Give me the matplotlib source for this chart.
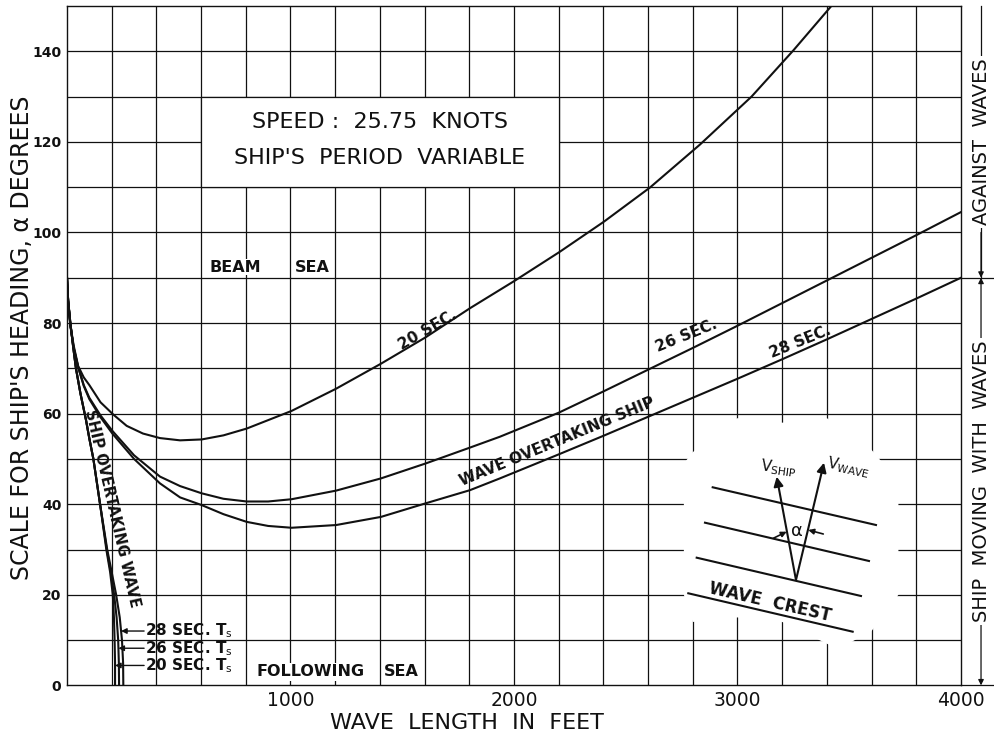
import numpy as np
import matplotlib.pyplot as plt
from matplotlib.patches import Rectangle, Polygon

# wave overtaking ship branch: wave length (ft) vs heading alpha (deg)
len_20 = [0, 5, 15, 30, 50, 75, 100, 150, 207, 267, 340, 416, 506, 603, 700, 804, 1005,
          1204, 1404, 1603, 1804, 2002, 2204, 2403, 2608, 2832, 3063, 3250, 3420]
deg_20 = [90, 85, 79.6, 75, 70.5, 68, 66.3, 62.5, 59.8, 57.3, 55.6, 54.6, 54.1, 54.3, 55.2,
          56.7, 60.6, 65.5, 71.0, 76.8, 83.3, 89.3, 95.7, 102.4, 109.9, 119.4, 130, 140.2, 150]

len_26 = [0, 5, 15, 30, 50, 75, 100, 150, 203, 300, 416, 506, 603, 700, 804, 900, 1005,
          1204, 1405, 1605, 1803, 1937, 2200, 2400, 2600, 2800, 3000, 3200, 3400, 3600,
          3800, 4000]
deg_26 = [90, 85, 79.5, 74.5, 70.3, 66.3, 63.5, 59.6, 56.2, 50.8, 46.1, 44.0, 42.4, 41.2,
          40.6, 40.6, 41.1, 43.0, 45.7, 49.0, 52.5, 54.9, 60.2, 64.9, 69.7, 74.5, 79.4,
          84.4, 89.4, 94.4, 99.4, 104.5]

len_28 = [0, 5, 15, 30, 50, 75, 100, 150, 203, 300, 416, 506, 603, 700, 804, 900, 1005,
          1204, 1405, 1605, 1803, 1937, 2200, 2400, 2600, 2800, 3000, 3200, 3400, 3600,
          3800, 4000]
deg_28 = [90, 85, 79.5, 74.5, 70.2, 66.1, 63.2, 59.2, 55.6, 50.0, 44.6, 41.5, 39.8, 37.8,
          36.1, 35.2, 34.8, 35.4, 37.2, 40.2, 43.1, 45.7, 51.0, 55.1, 59.3, 63.5, 67.7,
          72.0, 76.4, 80.9, 85.4, 90]

# ship overtaking wave branch
ovt_deg = [90, 85, 80, 75, 70, 64.5, 58.6, 54.5, 50, 45, 40, 35, 30, 25, 20, 15, 10, 5, 0]
ovt_20 = [0, 5, 15, 27, 40, 60, 85, 100, 118, 133, 148, 162, 176, 193, 205, 210, 213, 215, 215]
ovt_26 = [0, 5, 15, 27, 40, 60, 85, 100, 118, 133, 148, 163, 178, 196, 211, 222, 229, 232, 233]
ovt_28 = [0, 5, 15, 27, 40, 60, 85, 100, 118, 133, 148, 164, 180, 200, 220, 236, 246, 251, 252]

y_ticks = [0, 20, 40, 60, 80, 100, 120, 140]
x_ticks = [1000, 2000, 3000, 4000]

INK = '#111111'
plt.rcParams['font.family'] = ['DejaVu Sans']

fig = plt.figure(figsize=(9.94, 7.38), dpi=100)
ax = fig.add_axes([0.0674, 0.0713, 0.8994, 0.9206])
ax.set_xlim(0, 4000)
ax.set_ylim(0, 150)

# grid
ax.vlines(np.arange(200, 4000, 200), 0, 150, color=INK, lw=0.9, zorder=1)
ax.hlines(np.arange(10, 150, 10), 0, 4000, color=INK, lw=0.9, zorder=1)
for s in ax.spines.values():
    s.set_color(INK)
    s.set_linewidth(1.0)

ax.set_yticks(y_ticks)
ax.set_yticklabels([str(v) for v in y_ticks], fontsize=10, fontweight='bold')
ax.set_xticks(x_ticks)
ax.set_xticklabels([str(v) for v in x_ticks], fontsize=13.5)
ax.tick_params(length=0, colors=INK)
ax.tick_params(axis='y', pad=4)
ax.tick_params(axis='x', pad=4)

# white patches hiding grid (title box and inset drawing)
ax.add_patch(Rectangle((600, 110), 1600, 20, facecolor='white', edgecolor=INK,
                       lw=0.9, zorder=2))
ax.add_patch(Polygon([(2760, 49), (2800, 51.5), (3000, 59), (3200, 58), (3400, 59),
                      (3600, 52), (3720, 45), (3720, 20), (3600, 12), (3450, 8),
                      (3200, 14), (3000, 15), (2800, 14), (2760, 20)],
                     closed=True, facecolor='white', edgecolor='none', zorder=2))

# curves
for xs, ys in [(len_20, deg_20), (len_26, deg_26), (len_28, deg_28),
               (ovt_20, ovt_deg), (ovt_26, ovt_deg), (ovt_28, ovt_deg)]:
    ax.plot(xs, ys, color=INK, lw=1.5, zorder=3, solid_joinstyle='round')

ax.text(1400, 124.3, 'SPEED :  25.75  KNOTS', ha='center', va='center',
        fontsize=16, color=INK, zorder=4)
ax.text(1400, 116.4, "SHIP'S  PERIOD  VARIABLE", ha='center', va='center',
        fontsize=16, color=INK, zorder=4)

wb = dict(facecolor='white', edgecolor='none', pad=0.5)
ax.text(753, 90.7, 'BEAM', ha='center', va='bottom', fontsize=11.5,
        fontweight='bold', color=INK, bbox=wb, zorder=4)
ax.text(1098, 90.7, 'SEA', ha='center', va='bottom', fontsize=11.5,
        fontweight='bold', color=INK, bbox=wb, zorder=4)
ax.text(850, 3, 'FOLLOWING', ha='left', va='center', fontsize=11.5,
        fontweight='bold', color=INK, bbox=dict(facecolor='white', edgecolor='none', pad=1),
        zorder=4)
ax.text(1420, 3, 'SEA', ha='left', va='center', fontsize=11.5,
        fontweight='bold', color=INK, bbox=dict(facecolor='white', edgecolor='none', pad=1),
        zorder=4)

ax.text(1615, 78.5, '20 SEC.', ha='center', va='center', rotation=30,
        fontsize=11, fontweight='bold', color=INK, zorder=4)
ax.text(2770, 77.2, '26 SEC.', ha='center', va='center', rotation=22,
        fontsize=11, fontweight='bold', color=INK, zorder=4)
ax.text(3280, 75.8, '28 SEC.', ha='center', va='center', rotation=22,
        fontsize=11, fontweight='bold', color=INK, zorder=4)
ax.text(2192, 53.7, 'WAVE OVERTAKING SHIP', ha='center', va='center', rotation=22.5,
        fontsize=11, fontweight='bold', color=INK, zorder=4)
ax.text(200, 39.0, 'SHIP OVERTAKING WAVE', ha='center', va='center', rotation=-77,
        fontsize=10.5, fontweight='bold', color=INK, zorder=4)

# T_s arrows
for lbl, xs, yv in [('28', ovt_28, 12.0), ('26', ovt_26, 8.2), ('20', ovt_20, 4.4)]:
    tip = np.interp(yv, ovt_deg[::-1], xs[::-1])
    ax.annotate('', xy=(tip, yv), xytext=(345, yv),
                arrowprops=dict(arrowstyle='-|>', color=INK, lw=1.0,
                                mutation_scale=8, shrinkA=0, shrinkB=0), zorder=4)
    ax.text(350, yv, lbl + r' SEC. T$_\mathrm{s}$', ha='left', va='center',
            fontsize=11, fontweight='bold', color=INK, zorder=4)

# axis labels
ax.text(-0.0505, 0.511, "SCALE FOR SHIP'S HEADING, α DEGREES", transform=ax.transAxes,
        rotation=90, ha='center', va='center', fontsize=17, color=INK)
ax.text(1790, -0.056, 'WAVE  LENGTH  IN  FEET', transform=ax.get_xaxis_transform(),
        ha='center', va='center', fontsize=16, color=INK)

# right-hand dimension annotations
ytr = ax.get_yaxis_transform()
for yv in (0, 90):
    ax.plot([1.0, 1.04], [yv, yv], transform=ytr, color=INK, lw=0.9, clip_on=False)
xa = 1.0224
ax.plot([xa, xa], [150, 90], transform=ytr, color=INK, lw=0.9, clip_on=False)
ax.annotate('', xy=(xa, 90), xytext=(xa, 100), xycoords=ytr, textcoords=ytr,
            arrowprops=dict(arrowstyle='-|>', color=INK, lw=0.9, mutation_scale=8,
                            shrinkA=0, shrinkB=0), annotation_clip=False)
ax.annotate('', xy=(xa, 90), xytext=(xa, 0), xycoords=ytr, textcoords=ytr,
            arrowprops=dict(arrowstyle='<|-|>', color=INK, lw=0.9, mutation_scale=8,
                            shrinkA=0, shrinkB=0), annotation_clip=False)
ax.text(xa, 120, 'AGAINST  WAVES', transform=ytr, rotation=90, ha='center', va='center',
        fontsize=14, color=INK, bbox=dict(facecolor='white', edgecolor='none', pad=2),
        clip_on=False)
ax.text(xa, 45, 'SHIP  MOVING  WITH  WAVES', transform=ytr, rotation=90, ha='center',
        va='center', fontsize=14, color=INK,
        bbox=dict(facecolor='white', edgecolor='none', pad=2), clip_on=False)

# inset sketch (local coordinates = reference pixel frame)
ins = fig.add_axes([0.6841, 0.1328, 0.2213, 0.2710])
ins.set_xlim(680, 900)
ins.set_ylim(640, 440)
ins.axis('off')
ins.patch.set_alpha(0)
crest_lines = [((712.7, 487.3), (876, 525)), ((705, 522.7), (869, 561)),
               ((696.7, 557.7), (861, 596)), ((688.3, 593.3), (852.7, 631.7))]
for (x0, y0), (x1, y1) in crest_lines:
    ins.plot([x0, x1], [y0, y1], color=INK, lw=1.5)
origin = (796, 580)
for tip in [(776.7, 476.7), (824, 462.7)]:
    ins.annotate('', xy=tip, xytext=origin,
                 arrowprops=dict(arrowstyle='-|>', color=INK, lw=1.5,
                                 mutation_scale=14, shrinkA=0, shrinkB=0))
for src, dst in [((773.3, 538.3), (786.7, 531.7)), ((823.3, 534), (808.3, 530))]:
    ins.annotate('', xy=dst, xytext=src,
                 arrowprops=dict(arrowstyle='-|>', color=INK, lw=1.2,
                                 mutation_scale=8, shrinkA=0, shrinkB=0))
ins.text(797.3, 530.7, 'α', ha='center', va='center', fontsize=13, color=INK)
ins.text(778, 468, r'V$_\mathregular{SHIP}$', ha='center', va='center', fontsize=11,
         rotation=-8, color=INK)
ins.text(848, 467, r'V$_\mathregular{WAVE}$', ha='center', va='center', fontsize=11,
         rotation=-12, color=INK)
ins.text(770, 602, 'WAVE  CREST', ha='center', va='center', fontsize=12,
         fontweight='bold', rotation=-13, color=INK)

fig.savefig('out.png', dpi=100)
